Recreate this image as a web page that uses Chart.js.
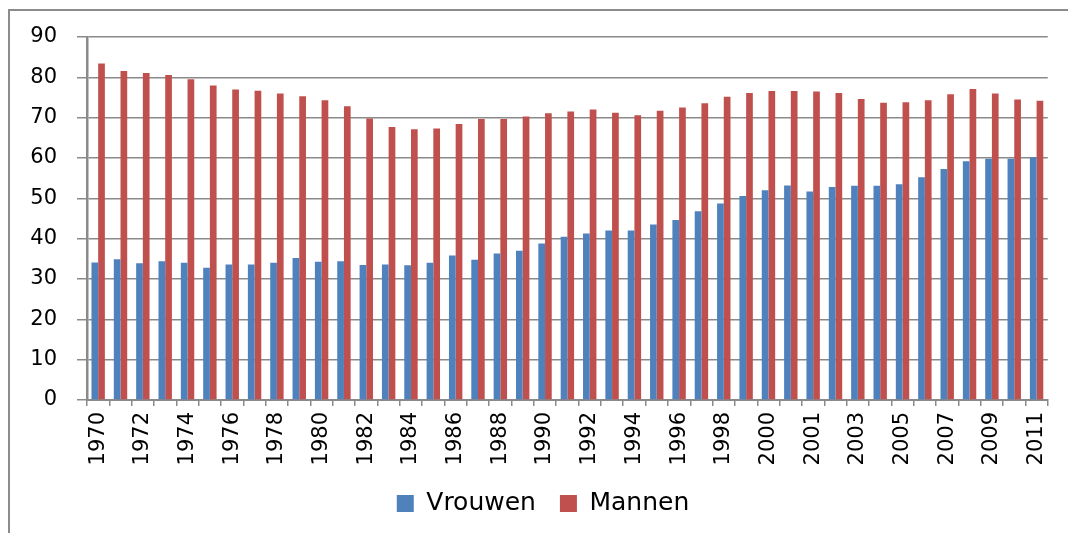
<html>
<head>
<script src="https://cdn.jsdelivr.net/npm/chart.js@4.4.0/dist/chart.umd.min.js"></script>
<style>
body { margin: 0; background: #fff; }
#wrap { position: relative; width: 1068px; height: 533px; }
#frame { position: absolute; left: 8px; top: 9px; right: 0; bottom: 0; border-left: 2px solid #8c8c8c; border-top: 2px solid #8c8c8c; }
#myChart { position: absolute; left: 0; top: 0; }
</style>
</head>
<body>
<div id="wrap">
<div id="frame"></div>
<canvas id="myChart" width="1068" height="533"></canvas>
</div>
<script type="text/javascript">

// jaren (2000 staat er twee keer in, breuk in de reeks)
var jaren = ["1970","1971","1972","1973","1974","1975","1976","1977","1978","1979",
	"1980","1981","1982","1983","1984","1985","1986","1987","1988","1989",
	"1990","1991","1992","1993","1994","1995","1996","1997","1998","1999",
	"2000","2000","2001","2002","2003","2004","2005","2006","2007","2008",
	"2009","2010","2011"];

var vrouwen = [34.1, 34.9, 33.9, 34.4, 34.0, 32.8, 33.6, 33.6, 34.0, 35.2,
	34.3, 34.4, 33.5, 33.6, 33.4, 34.0, 35.8, 34.8, 36.3, 37.0,
	38.8, 40.5, 41.3, 42.0, 42.0, 43.5, 44.6, 46.8, 48.7, 50.6,
	52.0, 53.2, 51.7, 52.8, 53.1, 53.1, 53.5, 55.2, 57.3, 59.2,
	59.8, 59.8, 60.2];

var mannen = [83.4, 81.6, 81.1, 80.6, 79.5, 78.0, 77.0, 76.7, 76.0, 75.3,
	74.3, 72.8, 69.8, 67.7, 67.1, 67.3, 68.4, 69.7, 69.7, 70.3,
	71.1, 71.5, 72.0, 71.2, 70.6, 71.7, 72.5, 73.6, 75.2, 76.1,
	76.6, 76.6, 76.5, 76.1, 74.6, 73.7, 73.8, 74.3, 75.8, 77.1,
	76.0, 74.5, 74.2];

var yMin = 0, yMax = 90, yStap = 10;

var grijs = "#8a8a8a";
var font = "'DejaVu Sans', sans-serif";

new Chart("myChart", {
	type: "bar",
	data: {
		labels: jaren,
		datasets: [{
			label: "Vrouwen",
			data: vrouwen,
			backgroundColor: "#4f81bd",
			yAxisID: "y"
		}, {
			label: "Mannen",
			data: mannen,
			backgroundColor: "#c0504d",
			yAxisID: "y"
		}]
	},
	options: {
		responsive: false,
		animation: false,
		datasets: { bar: { categoryPercentage: 0.6, barPercentage: 1.0 } },
		// negatieve rechter padding + lege as rechts: legenda schuift iets naar rechts
		layout: { padding: { left: 0, top: 37, right: -18, bottom: 7 } },
		plugins: {
			tooltip: { enabled: false },
			legend: {
				position: "bottom",
				labels: {
					boxWidth: 17, boxHeight: 17, padding: 24,
					color: "#000",
					font: { family: font, size: 25 }
				}
			}
		},
		scales: {
			x: {
				afterFit: function(s){ s.height = 67; },
				grid: { drawOnChartArea: false, drawTicks: true, tickLength: 6, color: grijs, lineWidth: 1.5, offset: true },
				border: { color: grijs, width: 2 },
				ticks: {
					autoSkip: false, minRotation: 90, maxRotation: 90, padding: 6,
					color: "#000", font: { family: font, size: 21 },
					callback: function(v, i){ return i % 2 == 0 ? jaren[i] : ""; }
				}
			},
			y: {
				min: yMin, max: yMax,
				afterFit: function(s){ s.width = 87; },
				grid: { color: grijs, lineWidth: 1.5, tickLength: 10 },
				border: { color: grijs, width: 2.5 },
				ticks: { stepSize: yStap, padding: 20, color: "#000", font: { family: font, size: 21 } }
			},
			rechts: {
				axis: "y", position: "right",
				min: yMin, max: yMax,
				afterFit: function(s){ s.width = 36; },
				grid: { display: false },
				border: { display: false },
				ticks: { display: false }
			}
		}
	}
});
</script>
</body>
</html>
